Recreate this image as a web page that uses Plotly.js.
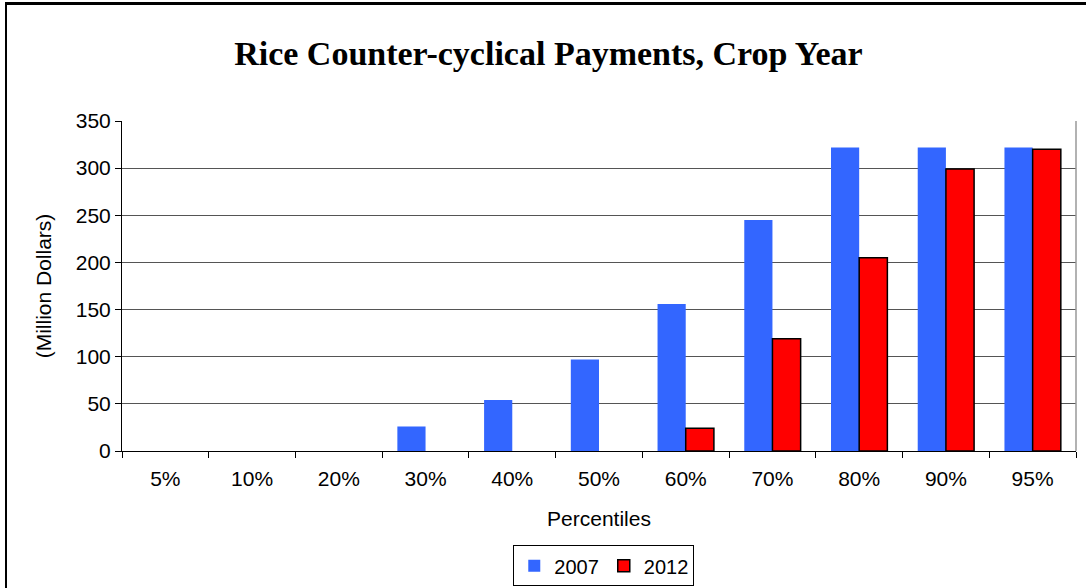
<!DOCTYPE html>
<html>
<head>
<meta charset="utf-8">
<script src="https://cdn.plot.ly/plotly-3.0.1.min.js"></script>
<style>
html,body{margin:0;padding:0;background:#fff;overflow:hidden;}
#chart{width:1086px;height:588px;position:relative;}
#frame{position:absolute;left:5px;top:2px;width:2000px;height:2000px;border-left:2px solid #000;border-top:3px solid #000;pointer-events:none;}
</style>
</head>
<body>
<div id="chart"></div>
<div id="frame"></div>
<script>
var categories = ["5%","10%","20%","30%","40%","50%","60%","70%","80%","90%","95%"];
var values2007 = [0,0,0,26,54,97,156,245,322,322,322];
var values2012 = [0,0,0,0,0,0,24,119,205,299,320];
var yTicks = [0,50,100,150,200,250,300,350];

// zero values are not drawn as bars (no outline stubs), as in the original
function hideZeros(arr){ return arr.map(function(v){ return v > 0 ? v : null; }); }

var traces = [
  {type:"bar", name:"2007", x:categories, y:hideZeros(values2007),
   marker:{color:"#3366FF", line:{color:"#3366FF", width:0}}},
  {type:"bar", name:"2012", x:categories, y:hideZeros(values2012),
   marker:{color:"#FF0000", line:{color:"#000000", width:1.5}}}
];

var layout = {
  width:1086, height:588,
  paper_bgcolor:"#ffffff", plot_bgcolor:"#ffffff",
  margin:{l:122, r:10, t:121, b:137, autoexpand:false},
  title:{text:"<b>Rice Counter-cyclical Payments, Crop Year</b>",
    font:{family:"Liberation Serif, Times New Roman, serif", size:34, color:"#000"},
    x:0.505, xanchor:"center", y:0.91, yanchor:"middle"},
  barmode:"group", bargap:0.35, bargroupgap:0,
  font:{family:"Liberation Sans, Arial, sans-serif", size:21, color:"#000"},
  xaxis:{type:"category", tickson:"boundaries", ticks:"outside", ticklen:6, tickcolor:"#000",
    showline:true, linecolor:"#000", linewidth:1, showgrid:false, automargin:false,
    ticklabelstandoff:9,
    tickfont:{size:21}, title:{text:"Percentiles", font:{size:21}, standoff:22}},
  yaxis:{range:[0,350], tickvals:yTicks, ticks:"outside", ticklen:6, tickcolor:"#000",
    showline:true, linecolor:"#000", linewidth:1, showgrid:true, gridcolor:"#555", gridwidth:1,
    zeroline:false, automargin:false, tickfont:{size:21},
    title:{text:"(Million Dollars)", font:{size:21}, standoff:18}},
  shapes:[
    {type:"line", xref:"paper", yref:"paper", x0:1, x1:1, y0:0, y1:1, line:{color:"#999", width:1.5}}
  ],
  legend:{orientation:"h", x:0.505, xanchor:"center", y:-0.348, yanchor:"middle",
    bordercolor:"#000", borderwidth:1, font:{size:20}, traceorder:"normal",
    itemwidth:30, tracegroupgap:0}
};

Plotly.newPlot("chart", traces, layout, {displayModeBar:false, staticPlot:true});
</script>
</body>
</html>
